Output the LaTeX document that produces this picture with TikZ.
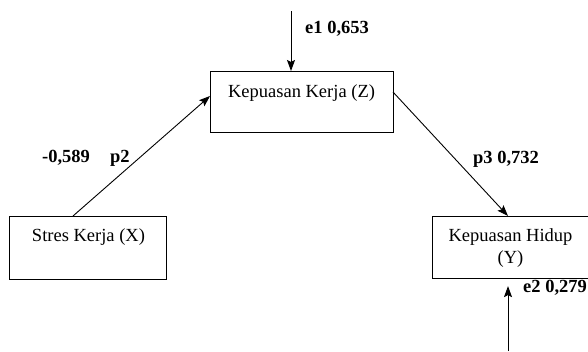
\documentclass[tikz,border=0pt]{standalone}
\usepackage{fontspec}
\setmainfont{Liberation Serif}
\usetikzlibrary{arrows.meta,calc}
\begin{document}
\begin{tikzpicture}[x=1pt,y=-1pt,
  varbox/.style={draw, line width=1.1pt, inner sep=0pt, anchor=north west},
  arr/.style={line width=0.9pt, -{Stealth[length=11pt,width=8pt,inset=2pt]}},
  lbl/.style={font=\fontsize{18.5}{20}\selectfont, anchor=base, inner sep=0pt},
  coef/.style={font=\fontsize{18.5}{20}\selectfont\bfseries, anchor=base west, inner sep=0pt}]
  \useasboundingbox (0,0) rectangle (588,351);

  % variable boxes
  \node[varbox, minimum width=183pt, minimum height=61pt] (Z) at (210,71) {};
  \node[varbox, minimum width=157pt, minimum height=63pt] (X) at (9,216) {};
  \node[varbox, minimum width=157pt, minimum height=62pt] (Y) at (432,216) {};

  % box captions
  \node[lbl] (tZ) at (301.5,97) {Kepuasan Kerja (Z)};
  \node[lbl] (tX) at (88.5,241) {Stres Kerja (X)};
  \node[lbl] (tY1) at (510.5,241) {Kepuasan Hidup};
  \node[lbl] (tY2) at (510.5,263) {(Y)};

  % error terms
  \coordinate (e1) at (291,11);
  \coordinate (e2) at (508,351);
  \draw[arr] (e1) -- (e1 |- Z.north);
  \draw[arr, shorten >=7pt] (e2) -- (e2 |- Y.south);

  % paths
  \coordinate (xs) at (73,216);
  \coordinate (ze) at (210,96);
  \coordinate (zs) at (393,92);
  \coordinate (ye) at (508,216);
  \draw[arr] (xs) -- (ze);
  \draw[arr] (zs) -- (ye);

  % coefficients
  \node[coef] (c1) at (305,33) {e1 0,653};
  \node[coef] (c2) at (523,292) {e2 0,279};
  \node[coef] (c3) at (42,162) {-0,589};
  \node[coef] (c4) at (110,162) {p2};
  \node[coef] (c5) at (473,163) {p3 0,732};
\end{tikzpicture}
\end{document}
